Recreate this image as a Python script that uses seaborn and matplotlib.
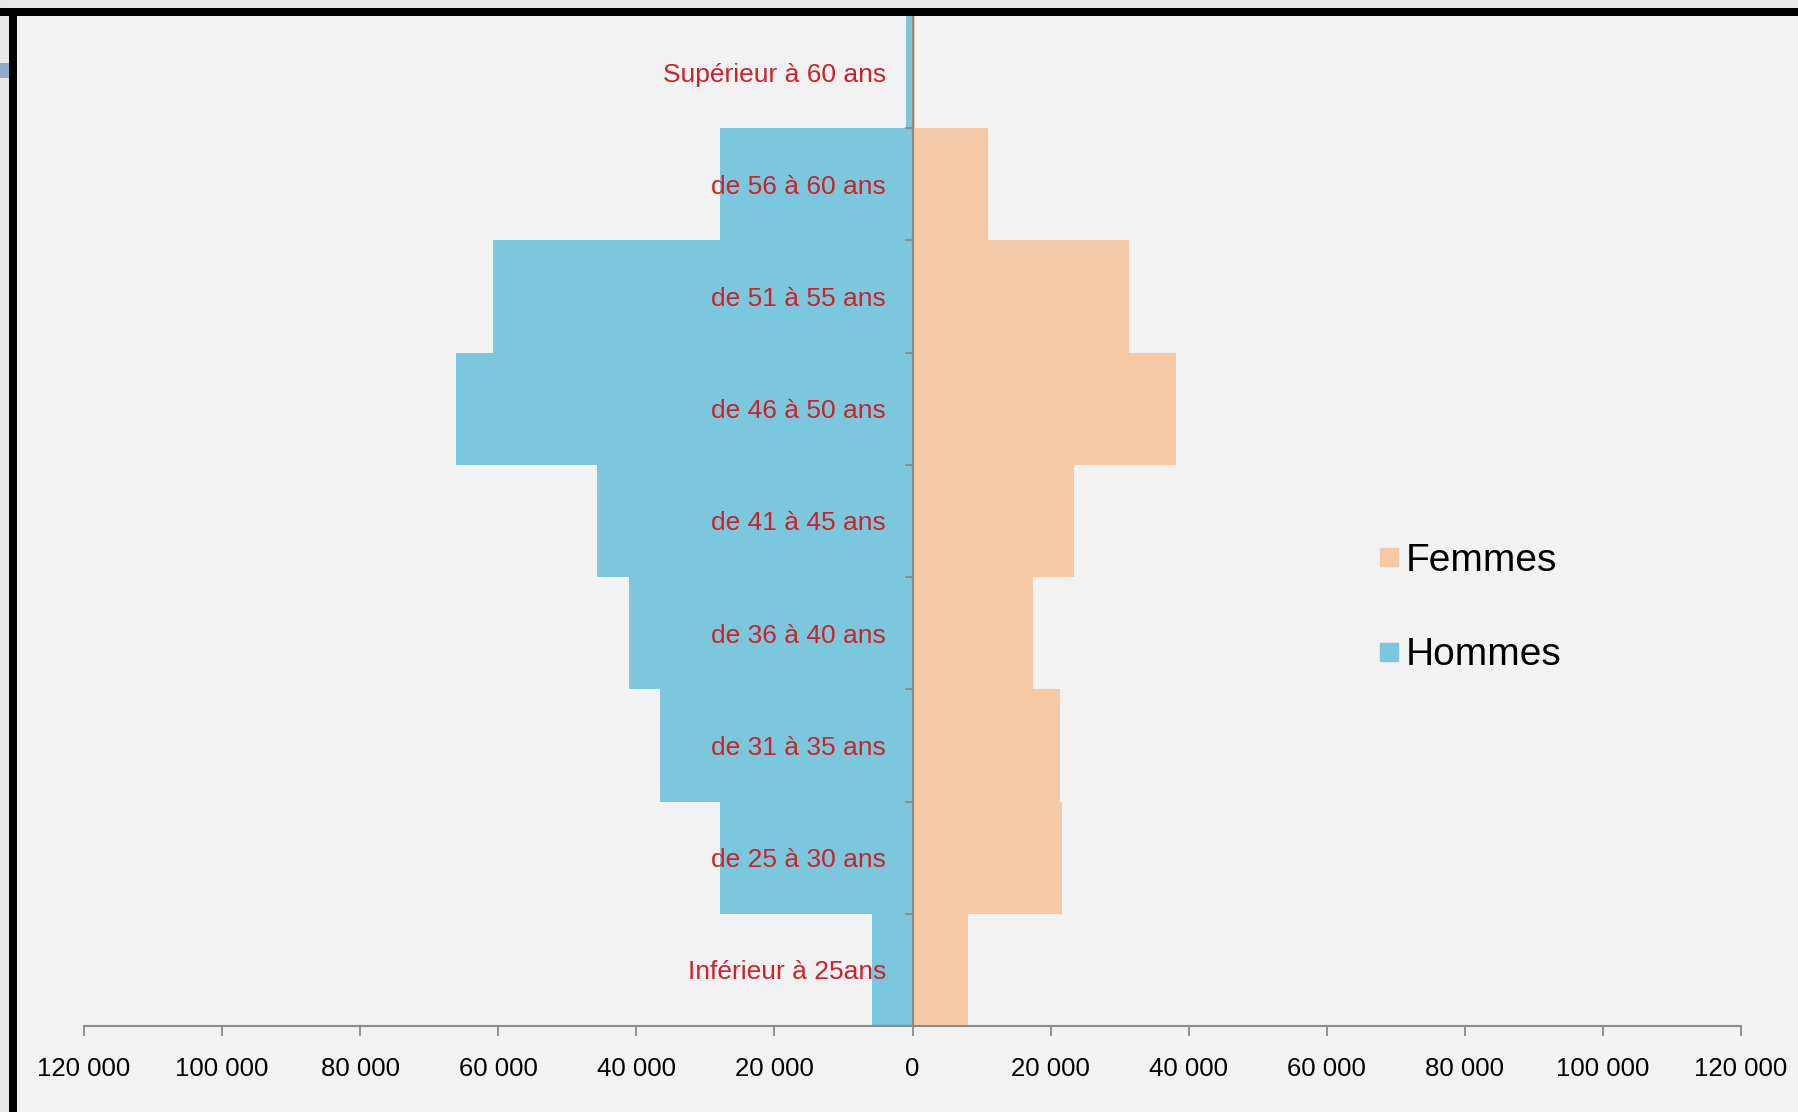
import matplotlib
matplotlib.use("Agg")
import matplotlib.pyplot as plt
import seaborn as sns
import pandas as pd
from matplotlib import font_manager
from matplotlib.ticker import FixedLocator, FuncFormatter
from matplotlib.lines import Line2D
from matplotlib.patches import Rectangle

# Age groups, top to bottom
tranches = [
    "Supérieur à 60 ans",
    "de 56 à 60 ans",
    "de 51 à 55 ans",
    "de 46 à 50 ans",
    "de 41 à 45 ans",
    "de 36 à 40 ans",
    "de 31 à 35 ans",
    "de 25 à 30 ans",
    "Inférieur à 25ans",
]
hommes = [1000, 27900, 60700, 66100, 45700, 41000, 36600, 27900, 5800]
femmes = [400, 10900, 31400, 38100, 23400, 17500, 21300, 21600, 8000]
graduations = [-120000, -100000, -80000, -60000, -40000, -20000, 0,
               20000, 40000, 60000, 80000, 100000, 120000]

BLUE = "#7bc7de"
PEACH = "#f5c9a6"
BG = "#f2f2f2"
GREY = "#8a8a8a"
RED = "#cc2229"

sns.set_theme(style="white")
plt.rcParams["font.family"] = ["Liberation Sans", "DejaVu Sans"]

installed = {f.name for f in font_manager.fontManager.ttflist}
narrow = "Liberation Sans Narrow" in installed

W, H = 1798, 1112
fig = plt.figure(figsize=(W / 100, H / 100), dpi=100, facecolor=BG)


def fx(px):
    return px / W


def fy(py):
    return 1 - py / H


# window frame around the chart area
fig.add_artist(Rectangle((0, fy(8)), 1, 8 / H, transform=fig.transFigure,
                         facecolor="#ebebeb", edgecolor="none"))
fig.add_artist(Rectangle((0, 0), fx(9), 1, transform=fig.transFigure,
                         facecolor="#e9e9e9", edgecolor="none"))
fig.add_artist(Rectangle((fx(0), fy(78)), fx(9), 15 / H, transform=fig.transFigure,
                         facecolor="#8fabc9", edgecolor="none"))
fig.add_artist(Rectangle((0, fy(16)), 1, 8 / H, transform=fig.transFigure,
                         facecolor="black", edgecolor="none"))
fig.add_artist(Rectangle((fx(9), 0), fx(8), fy(8), transform=fig.transFigure,
                         facecolor="black", edgecolor="none"))

ax = fig.add_axes([fx(84), fy(1026), fx(1741 - 84), (1026 - 16) / H])
ax.set_facecolor("none")

df = pd.DataFrame({
    "tranche": tranches * 2,
    "effectif": [-v for v in hommes] + femmes,
    "sexe": ["Hommes"] * len(hommes) + ["Femmes"] * len(femmes),
})
sns.barplot(data=df, x="effectif", y="tranche", hue="sexe", order=tranches,
            hue_order=["Hommes", "Femmes"],
            palette={"Hommes": BLUE, "Femmes": PEACH},
            dodge=False, width=1.0, orient="h", saturation=1,
            errorbar=None, linewidth=0, edgecolor="none",
            legend=False, ax=ax)

ax.set_xlim(-120000, 120000)
ax.set_ylim(len(tranches) - 0.5, -0.5)
ax.set_xlabel("")
ax.set_ylabel("")
ax.set_axisbelow(False)

for side in ("top", "right"):
    ax.spines[side].set_visible(False)
ax.spines["left"].set_position(("data", 0))
ax.spines["left"].set_color(GREY)
ax.spines["left"].set_linewidth(1.5)
ax.spines["bottom"].set_color(GREY)
ax.spines["bottom"].set_linewidth(1.5)

ax.xaxis.set_major_locator(FixedLocator(graduations))
ax.xaxis.set_major_formatter(
    FuncFormatter(lambda v, _: f"{abs(int(round(v))):,}".replace(",", " ")))
ax.tick_params(axis="x", direction="out", length=7, width=1.3, color=GREY,
               pad=15.5, labelsize=21 if narrow else 18.5, labelcolor="black",
               bottom=True)
for lab in ax.get_xticklabels():
    lab.set_fontfamily(["Liberation Sans Narrow" if narrow else "Liberation Sans",
                        "DejaVu Sans"])

ax.yaxis.set_major_locator(FixedLocator(range(len(tranches))))
ax.set_yticklabels(tranches)
ax.yaxis.set_minor_locator(FixedLocator([i + 0.5 for i in range(len(tranches) - 1)]))
ax.tick_params(axis="y", which="major", length=0, pad=19, labelsize=19,
               labelcolor=RED, left=True)
ax.tick_params(axis="y", which="minor", direction="out", length=5.5,
               width=1.3, color=GREY, left=True)

handles = [
    Line2D([], [], marker="s", ls="", color=PEACH, markersize=13, label="Femmes"),
    Line2D([], [], marker="s", ls="", color=BLUE, markersize=13, label="Hommes"),
]
fig.legend(handles=handles, loc="upper left",
           bbox_to_anchor=(fx(1379), fy(543)), bbox_transform=fig.transFigure,
           frameon=False, fontsize=28, handlelength=0.5, handletextpad=0.2,
           labelspacing=1.5, borderpad=0, borderaxespad=0, labelcolor="black")

fig.savefig("out.png", dpi=100, facecolor=BG)
